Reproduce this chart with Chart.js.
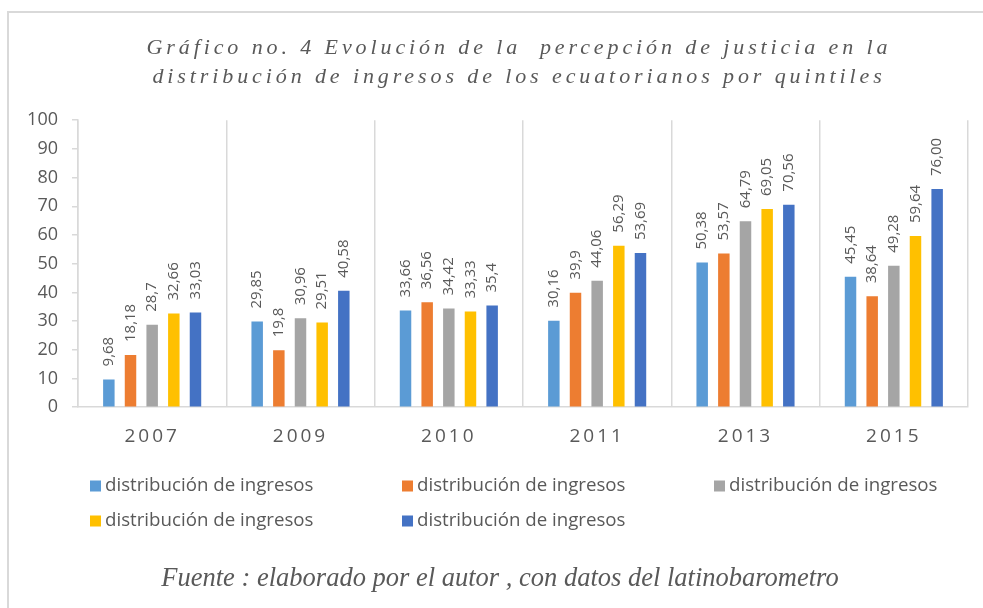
<!DOCTYPE html>
<html lang="es">
<head>
  <meta charset="UTF-8">
  <title>Evolución de la percepción de justicia</title>
  <script src="https://cdn.jsdelivr.net/npm/chart.js"></script>
  <style>
    html, body { margin: 0; padding: 0; background: #fff; }
    .wrap { position: relative; width: 983px; height: 608px; overflow: hidden; }
    .frame {
      position: absolute; left: 7px; top: 11px; width: 1000px; height: 620px;
      border-top: 2px solid #d9d9d9; border-left: 2px solid #d9d9d9;
    }
    .box { position: absolute; left: 0; top: 0; width: 983px; height: 608px; }
  </style>
</head>
<body>
  <div class="wrap">
    <div class="frame"></div>
    <div class="box"><canvas id="chart"></canvas></div>
  </div>

  <script>
    // datos (texto tal cual aparece en las etiquetas)
    const years = ['2007', '2009', '2010', '2011', '2013', '2015'];
    const q1 = ['9,68', '29,85', '33,66', '30,16', '50,38', '45,45'];
    const q2 = ['18,18', '19,8', '36,56', '39,9', '53,57', '38,64'];
    const q3 = ['28,7', '30,96', '34,42', '44,06', '64,79', '49,28'];
    const q4 = ['32,66', '29,51', '33,33', '56,29', '69,05', '59,64'];
    const q5 = ['33,03', '40,58', '35,4', '53,69', '70,56', '76,00'];
    const seriesNames = ['distribución de ingresos', 'distribución de ingresos', 'distribución de ingresos',
                         'distribución de ingresos', 'distribución de ingresos'];
    const colors = ['#5B9BD5', '#ED7D31', '#A5A5A5', '#FFC000', '#4472C4'];
    const yMin = 0, yMax = 100, yStep = 10;

    const titleLines = ['Gráfico no. 4 Evolución de la  percepción de justicia en la',
                        'distribución de ingresos de los ecuatorianos por quintiles'];
    const footer = 'Fuente : elaborado por el autor , con datos del latinobarometro';

    const gray = '#595959';
    const toNum = s => parseFloat(s.replace(',', '.'));

    const datasets = [q1, q2, q3, q4, q5].map((q, i) => ({
      label: seriesNames[i],
      data: q.map(toNum),
      valueLabels: q,
      backgroundColor: colors[i],
      borderWidth: 0,
      categoryPercentage: 0.73,
      barPercentage: 0.53
    }));

    // envuelve el dibujo de un bloque para cambiar espaciado / desplazamiento
    function wrapDraw(obj, fn, ctx, letter, dx) {
      if (!obj || obj._wrapped) return;
      const d = obj[fn].bind(obj);
      obj[fn] = function (a) {
        ctx.save();
        ctx.translate(dx, 0);
        if (letter) ctx.letterSpacing = letter;
        d(a);
        ctx.restore();
      };
      obj._wrapped = true;
    }

    const spacing = {
      id: 'spacing',
      beforeDraw(chart) {
        const sub = chart.boxes.find(b => b.options && b.options.text === footer);
        wrapDraw(chart.titleBlock, 'draw', chart.ctx, '3.9px', 35);
        wrapDraw(sub, 'draw', chart.ctx, null, 16);
        wrapDraw(chart.scales.x, 'drawLabels', chart.ctx, '3px', 0);
      }
    };

    // etiquetas verticales sobre cada barra
    const barLabels = {
      id: 'barLabels',
      afterDatasetsDraw(chart) {
        const ctx = chart.ctx;
        ctx.save();
        ctx.font = '15px "Open Sans"';
        ctx.fillStyle = gray;
        ctx.textAlign = 'left';
        ctx.textBaseline = 'middle';
        chart.data.datasets.forEach((ds, i) => {
          chart.getDatasetMeta(i).data.forEach((bar, j) => {
            ctx.save();
            ctx.translate(bar.x, bar.y - 13);
            ctx.rotate(-Math.PI / 2);
            ctx.fillText(ds.valueLabels[j], 0, 0);
            ctx.restore();
          });
        });
        ctx.restore();
      }
    };

    // leyenda en tres columnas
    const gridLegend = {
      id: 'gridLegend',
      afterDraw(chart) {
        const ctx = chart.ctx;
        const cols = [90, 402, 714];
        const rows = [486, 521];
        ctx.save();
        ctx.font = '18.7px "Open Sans"';
        ctx.textBaseline = 'middle';
        ctx.textAlign = 'left';
        chart.data.datasets.forEach((ds, i) => {
          const x = cols[i % 3], y = rows[Math.floor(i / 3)];
          ctx.fillStyle = ds.backgroundColor;
          ctx.fillRect(x, y - 5.5, 11, 11);
          ctx.fillStyle = gray;
          ctx.fillText(ds.label, x + 15, y);
        });
        ctx.restore();
      }
    };

    const chart = new Chart(document.getElementById('chart'), {
      type: 'bar',
      data: { labels: years, datasets: datasets },
      options: {
        responsive: true,
        maintainAspectRatio: false,
        animation: false,
        layout: { padding: { left: 0, right: 15, top: 0, bottom: 13 } },
        plugins: {
          legend: { display: false },
          tooltip: { enabled: false },
          title: {
            display: true,
            text: titleLines,
            color: gray,
            font: { family: 'Liberation Serif', style: 'italic', size: 22, weight: 'normal', lineHeight: 1.3 },
            padding: { top: 34, bottom: 29 }
          },
          subtitle: {
            display: true,
            position: 'bottom',
            text: footer,
            color: gray,
            font: { family: 'Liberation Serif', style: 'italic', size: 26.5, weight: 'normal', lineHeight: 1.2 },
            padding: { top: 106, bottom: 0 }
          }
        },
        scales: {
          x: {
            afterFit: s => { s.height = 50; },
            grid: { offset: true, drawTicks: false, color: '#d9d9d9', lineWidth: 1.5 },
            border: { display: true, color: '#d9d9d9', width: 1.5 },
            ticks: { color: gray, padding: 18, font: { family: 'Open Sans', size: 19 } }
          },
          y: {
            min: yMin,
            max: yMax,
            afterFit: s => { s.width = 78; },
            grid: { drawOnChartArea: false, drawTicks: true, tickLength: 6, color: '#d9d9d9', lineWidth: 1.5 },
            border: { display: true, color: '#d9d9d9', width: 1.5 },
            ticks: { stepSize: yStep, color: gray, padding: 14, font: { family: 'Open Sans', size: 18 } }
          }
        }
      },
      plugins: [spacing, barLabels, gridLegend]
    });
    chart.draw();
  </script>
</body>
</html>
